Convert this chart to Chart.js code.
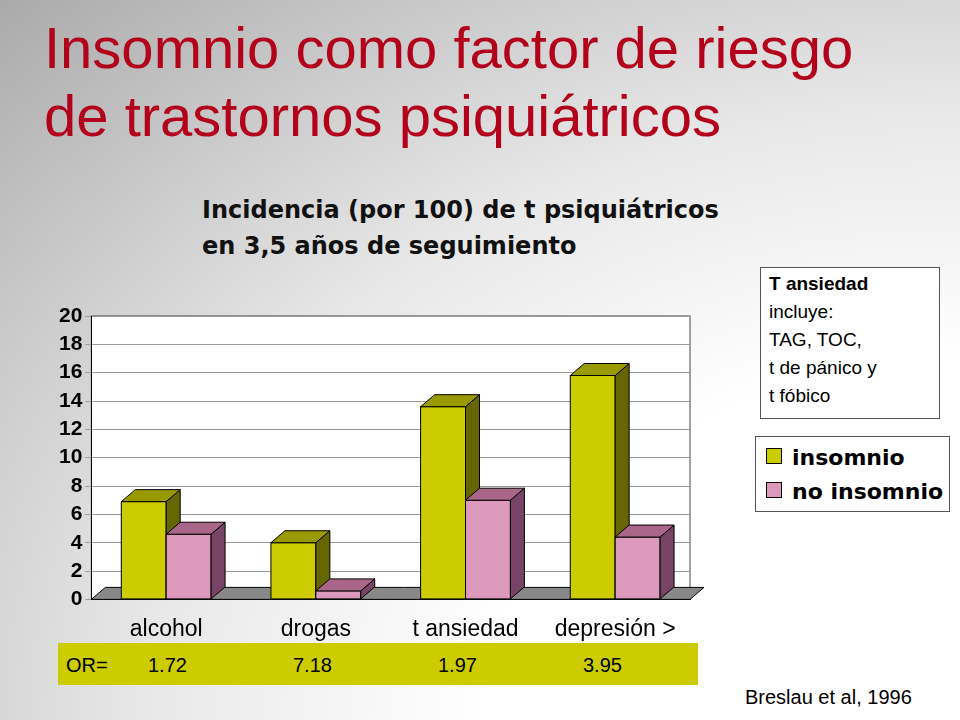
<!DOCTYPE html>
<html><head><meta charset="utf-8">
<script src="https://cdn.jsdelivr.net/npm/chart.js@4/dist/chart.umd.min.js"></script>
<style>
body{margin:0;width:960px;height:720px;overflow:hidden;position:relative;font-family:"Liberation Sans",Arial,sans-serif;
background:radial-gradient(ellipse at 100% 100%,#fff 0%,#fff 35%,#e8e8e8 60%,#aaa 100%);}
.title{position:absolute;left:44px;top:14px;color:#b3001b;font-size:58px;line-height:68px;}
.sub{position:absolute;left:202px;top:192px;font-family:"DejaVu Sans",sans-serif;font-weight:bold;font-size:24px;line-height:36px;color:#111;}
.note{position:absolute;left:760px;top:267px;width:180px;height:152px;border:1px solid #555;background:#fff;font-size:19px;line-height:28px;padding:2px 0 0 8px;box-sizing:border-box;}
.leg{position:absolute;left:755px;top:436px;width:193px;height:74px;border:1px solid #555;background:#fff;font-family:"DejaVu Sans",sans-serif;font-weight:bold;font-size:22px;}
.leg div{position:absolute;left:10px;}
.leg span{display:inline-block;width:14px;height:14px;border:1px solid #000;margin-right:10px;vertical-align:1px;}
.or{position:absolute;left:58px;top:643px;width:640px;height:42px;background:#cccc00;font-size:20px;line-height:44px;}
.or span{position:absolute;}
.ref{position:absolute;left:745px;top:686px;font-size:20px;}
#c{position:absolute;left:56px;top:296px;}
</style></head><body>
<div class="title">Insomnio como factor de riesgo<br>de trastornos psiquiátricos</div>
<div class="sub">Incidencia (por 100) de t psiquiátricos<br>en 3,5 años de seguimiento</div>
<div class="note"><b>T ansiedad</b><br>incluye:<br>TAG, TOC,<br>t de pánico y<br>t fóbico</div>
<div class="leg"><div style="top:8px"><span style="background:#cccc00"></span>insomnio</div><div style="top:42px"><span style="background:#dd99bb"></span>no insomnio</div></div>
<div class="or" id="or"></div>
<div class="ref">Breslau et al, 1996</div>
<canvas id="c" width="650" height="355"></canvas>
<script>
const categories = ['alcohol', 'drogas', 't ansiedad', 'depresión >'];
const insomnio = [6.9, 4.0, 13.6, 15.8];
const noInsomnio = [4.6, 0.6, 7.0, 4.4];
const oddsRatios = ['1.72', '7.18', '1.97', '3.95'];
const yTicks = [0, 2, 4, 6, 8, 10, 12, 14, 16, 18, 20];

const orEl = document.getElementById('or');
orEl.innerHTML = '<span style="left:8px">OR=</span>' +
  oddsRatios.map((v, i) => `<span style="left:${90 + i * 145}px">${v}</span>`).join('');

const DX = 14, DY = -12;
const faces = {
  front: ['#cccc00', '#dd99bb'],
  side: ['#666600', '#774466'],
  top: ['#999900', '#aa6688']
};

const depthBars = {
  id: 'depthBars',
  beforeDatasetsDraw(chart) {
    const { ctx, chartArea: a } = chart;
    ctx.save();
    ctx.fillStyle = '#888';
    ctx.beginPath();
    ctx.moveTo(a.left, a.bottom); ctx.lineTo(a.right, a.bottom);
    ctx.lineTo(a.right + DX, a.bottom + DY); ctx.lineTo(a.left + DX, a.bottom + DY);
    ctx.closePath(); ctx.fill(); ctx.strokeStyle = '#000'; ctx.stroke();
    ctx.restore();
  },
  afterDatasetsDraw(chart) {
    const { ctx } = chart;
    ctx.save();
    ctx.strokeStyle = '#000'; ctx.lineWidth = 1;
    categories.forEach((_, i) => {
      [0, 1].forEach(d => {
        const b = chart.getDatasetMeta(d).data[i];
        const l = b.x - b.width / 2, r = b.x + b.width / 2, t = b.y, btm = b.base;
        ctx.fillStyle = faces.front[d];
        ctx.fillRect(l, t, r - l, btm - t); ctx.strokeRect(l, t, r - l, btm - t);
        ctx.fillStyle = faces.side[d];
        ctx.beginPath();
        ctx.moveTo(r, t); ctx.lineTo(r + DX, t + DY); ctx.lineTo(r + DX, btm + DY); ctx.lineTo(r, btm);
        ctx.closePath(); ctx.fill(); ctx.stroke();
        ctx.fillStyle = faces.top[d];
        ctx.beginPath();
        ctx.moveTo(l, t); ctx.lineTo(l + DX, t + DY); ctx.lineTo(r + DX, t + DY); ctx.lineTo(r, t);
        ctx.closePath(); ctx.fill(); ctx.stroke();
      });
    });
    ctx.restore();
  }
};

new Chart(document.getElementById('c'), {
  type: 'bar',
  data: {
    labels: categories,
    datasets: [
      { label: 'insomnio', data: insomnio, backgroundColor: faces.front[0] },
      { label: 'no insomnio', data: noInsomnio, backgroundColor: faces.front[1] }
    ]
  },
  options: {
    responsive: false,
    animation: false,
    layout: { padding: { top: 20, right: 16 } },
    categoryPercentage: 0.6,
    barPercentage: 1,
    plugins: { legend: { display: false }, tooltip: { enabled: false } },
    scales: {
      x: {
        grid: { display: false },
        border: { color: '#000' },
        ticks: { color: '#000', font: { family: 'Liberation Sans', size: 23 }, padding: 8 }
      },
      y: {
        min: 0, max: 20,
        afterBuildTicks: s => { s.ticks = yTicks.map(v => ({ value: v })); },
        grid: { color: '#999', tickLength: 6 },
        border: { color: '#000' },
        ticks: { color: '#000', font: { family: 'Liberation Sans', size: 21, weight: 'bold' } }
      }
    }
  },
  plugins: [{
    id: 'wall',
    beforeDraw(chart) {
      const { ctx, chartArea: a } = chart;
      ctx.save();
      ctx.fillStyle = '#fff';
      ctx.fillRect(a.left, a.top, a.right - a.left, a.bottom - a.top);
      ctx.strokeStyle = '#444';
      ctx.strokeRect(a.left, a.top, a.right - a.left, a.bottom - a.top);
      ctx.restore();
    }
  }, depthBars]
});
</script>
</body></html>
